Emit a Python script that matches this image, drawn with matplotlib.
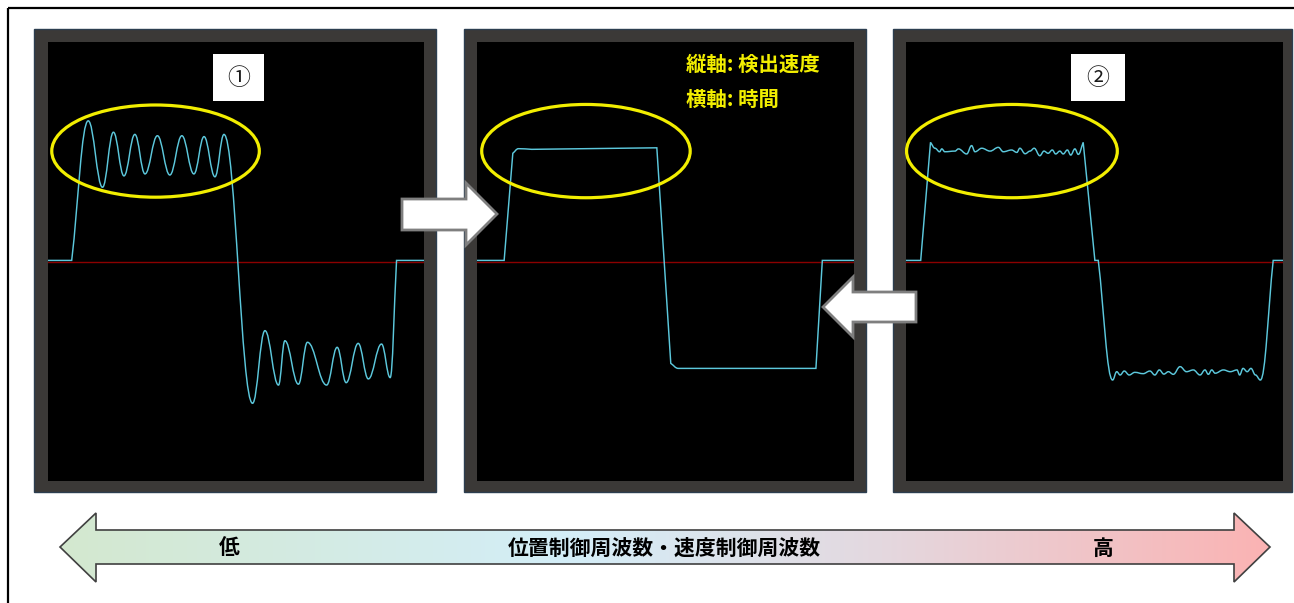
import matplotlib
matplotlib.use("Agg")
import matplotlib.pyplot as plt
import numpy as np
from matplotlib.path import Path
from matplotlib.patches import PathPatch, Polygon, Rectangle, Ellipse
from matplotlib.colors import LinearSegmentedColormap

plt.rcParams['font.family'] = ['Noto Sans CJK JP', 'DejaVu Sans']

# ---------------- data (time 0-100, detected speed -100..100) ----------------
# Panel ① : low control frequency -> large oscillation
p1_time = [0, 6.3, 10.7, 14.5, 17.4, 20.2, 23.1, 25.8, 29.1, 32.4, 35.6, 38.8, 41.5, 44.4, 46.8,
           54.4, 57.7, 61.3, 63.0, 66.6, 69.0, 74.1, 76.9, 79.3, 82.5, 85.2, 88.7, 91.0, 92.7, 100]
p1_speed = [0.5, 0.5, 64.1, 33.8, 58.9, 39.0, 57.9, 39.9, 57.3, 39.4, 57.3, 39.9, 56.9, 38.6, 57.9,
            -64.6, -31.5, -56.3, -36.1, -55.9, -36.8, -56.3, -39.1, -55.2, -37.3, -53.5, -37.6, -52.9, 0.5, 0.5]
p1_smooth = [0, 0, 1, 1, 1, 1, 1, 1, 1, 1, 1, 1, 1, 1, 1,
             1, 1, 1, 1, 1, 1, 1, 1, 1, 1, 1, 1, 1, 0, 0]

# Panel centre : appropriate frequency -> clean response
p2_time = [0, 7.2, 9.5, 11.0, 14.5, 47.7, 51.4, 53.4, 89.9, 91.6, 100]
p2_speed = [0.5, 0.5, 49.3, 51.4, 51.1, 51.8, -46.4, -48.7, -48.7, 0.5, 0.5]
p2_smooth = [0, 0, 0, 1, 0, 0, 0, 1, 0, 0, 0]

# Panel ② : high control frequency -> small ripple
p3_time = [0, 3.9, 6.5, 7.7, 8.9, 9.5, 10.3, 13.0, 13.9, 16.1, 17.4, 18.3, 20.1, 22.3, 24.5, 25.8,
           28.0, 29.4, 30.2, 31.6, 32.9, 34.0, 35.5, 36.6, 37.7, 38.8, 39.7, 40.8, 41.7, 42.8, 43.7,
           44.8, 45.7, 47.0, 50.1, 51.0, 54.8, 55.9, 56.8, 57.9, 59.2, 60.7, 62.9, 64.7, 66.0, 67.2,
           68.4, 69.6, 70.9, 72.7, 74.4, 76.2, 78.0, 79.3, 80.2, 81.1, 82.0, 84.2, 86.0, 87.8, 88.5,
           89.4, 90.5, 91.5, 92.7, 94.0, 97.4, 100]
p3_speed = [0.5, 0.5, 54.3, 51.6, 50.0, 51.3, 50.0, 50.3, 51.3, 49.0, 52.8, 50.0, 51.6, 50.3, 52.0, 50.0,
            50.8, 49.7, 51.6, 49.1, 50.3, 51.6, 48.2, 50.3, 49.3, 50.8, 49.0, 50.3, 49.0, 50.8, 48.5,
            51.3, 48.8, 54.3, 0.5, 0.5, -54.0, -50.2, -51.7, -49.9, -51.7, -50.5, -51.1, -49.9, -51.7, -49.4,
            -51.3, -50.2, -51.4, -47.9, -50.2, -49.4, -51.7, -49.4, -51.4, -49.4, -50.9, -49.4, -50.2, -49.4, -51.7,
            -48.7, -50.2, -48.7, -51.7, -54.0, 0.5, 0.5]
p3_smooth = [0, 0, 0] + [1] * 30 + [0, 0, 0] + [1] * 29 + [1, 0, 0]

panel_labels = ["①", "", "②"]
axis_text = ["縦軸: 検出速度", "横軸: 時間"]
scale_labels = ["低", "位置制御周波数・速度制御周波数", "高"]

# highlight ellipses (centre time, centre speed, width, height)
ell_t = [28.6, 28.9, 28.1]
ell_v = [50.3, 50.3, 50.3]
ell_w = [55.2, 55.3, 55.9]
ell_h = [42.0, 42.5, 42.5]

# ---------------- figure ----------------
W, H = 1294, 603
fig = plt.figure(figsize=(W / 100, H / 100), dpi=100)
fig.patch.set_facecolor("white")

def px_axes(z):
    a = fig.add_axes([0, 0, 1, 1], zorder=z)
    a.set_xlim(0, W)
    a.set_ylim(H, 0)
    a.axis("off")
    a.patch.set_alpha(0)
    return a

bg = px_axes(0)
# panel frames (outer gray, thin navy edge)
frames = [(34, 29, 436, 492), (464, 29, 866, 492), (893, 29, 1292, 492)]
for (x0, y0, x1, y1) in frames:
    bg.add_patch(Rectangle((x0, y0), x1 - x0, y1 - y0, facecolor="#3b3937",
                           edgecolor="#2c3e50", lw=1.0))

inner = [(48, 42, 424, 481), (477, 42, 854, 481), (906, 42, 1283, 481)]
series = [(p1_time, p1_speed, p1_smooth), (p2_time, p2_speed, p2_smooth), (p3_time, p3_speed, p3_smooth)]

def make_path(t, v, s, f=0.4):
    verts = [(t[0], v[0])]
    codes = [Path.MOVETO]
    for i in range(1, len(t)):
        x0, y0, x1, y1 = t[i - 1], v[i - 1], t[i], v[i]
        dx, dy = x1 - x0, y1 - y0
        c1 = (x0 + dx * f, y0) if s[i - 1] else (x0 + dx * f, y0 + dy * f)
        c2 = (x1 - dx * f, y1) if s[i] else (x1 - dx * f, y1 - dy * f)
        verts += [c1, c2, (x1, y1)]
        codes += [Path.CURVE4] * 3
    return Path(verts, codes)

for k, ((x0, y0, x1, y1), (t, v, s)) in enumerate(zip(inner, series)):
    ax = fig.add_axes([x0 / W, 1 - y1 / H, (x1 - x0) / W, (y1 - y0) / H], zorder=1)
    ax.set_facecolor("black")
    ax.set_xlim(0, 100)
    ax.set_ylim(-100, 100)
    ax.set_xticks([])
    ax.set_yticks([])
    for sp in ax.spines.values():
        sp.set_visible(False)
    ax.axhline(0, color="#8b0000", lw=1.0, zorder=1)
    ax.add_patch(PathPatch(make_path(t, v, s), facecolor="none", edgecolor="#5cc8dc", lw=1.05, zorder=2))
    ax.add_patch(Ellipse((ell_t[k], ell_v[k]), ell_w[k], ell_h[k], facecolor="none",
                         edgecolor="#f2ee00", lw=2.3, zorder=3, clip_on=False))
    if k == 1:
        ax.text(55.5, 90, axis_text[0], color="#f2ee00", fontsize=14.7, fontweight="bold",
                ha="left", va="center")
        ax.text(55.5, 74, axis_text[1], color="#f2ee00", fontsize=14.7, fontweight="bold",
                ha="left", va="center")

ov = px_axes(3)
# label boxes
boxes = [(213, 54, 264, 101), None, (1071, 54, 1125, 101)]
for b, lab in zip(boxes, panel_labels):
    if b is None:
        continue
    ov.add_patch(Rectangle((b[0], b[1]), b[2] - b[0], b[3] - b[1], facecolor="white", edgecolor="none"))
    ov.text((b[0] + b[2]) / 2, (b[1] + b[3]) / 2 + 1, lab, fontsize=16.5, ha="center", va="center", color="#1a1a1a")

# block arrows between panels
right_arrow = [(402, 199), (466, 199), (466, 183), (497, 214), (466, 245), (466, 230), (402, 230)]
left_arrow = [(823, 307), (853, 277), (853, 292), (916, 292), (916, 322), (853, 322), (853, 337)]
for pts in (right_arrow, left_arrow):
    ov.add_patch(Polygon(pts, closed=True, facecolor="white", edgecolor="#7f7f7f", lw=2.0, joinstyle="miter"))

# bottom gradient double arrow
big = [(60, 547), (96, 513), (96, 530), (1234, 530), (1234, 513), (1270, 547),
       (1234, 582), (1234, 564), (96, 564), (96, 582)]
poly = Polygon(big, closed=True, facecolor="none", edgecolor="#404040", lw=1.2, zorder=3)
ov.add_patch(poly)
cmap = LinearSegmentedColormap.from_list("g", [(0.0, "#d3e8cf"), (0.42, "#d4eef8"),
                                               (0.68, "#e4d8df"), (1.0, "#fbb3b3")])
grad = np.linspace(0, 1, 512).reshape(1, -1)
im = ov.imshow(grad, cmap=cmap, extent=(60, 1270, 582, 513), aspect="auto", zorder=2)
clip = Polygon(big, closed=True, transform=ov.transData, facecolor="none", edgecolor="none")
ov.add_patch(clip)
im.set_clip_path(clip)
ov.set_xlim(0, W)
ov.set_ylim(H, 0)

ov.text(229, 548, scale_labels[0], fontsize=15, fontweight="bold", ha="center", va="center", zorder=4)
ov.text(664, 548, scale_labels[1], fontsize=15, fontweight="bold", ha="center", va="center", zorder=4)
ov.text(1103, 548, scale_labels[2], fontsize=15, fontweight="bold", ha="center", va="center", zorder=4)

# outer frame
ov.add_patch(Rectangle((8, 8), W, H, facecolor="none", edgecolor="black", lw=1.6, zorder=5))

fig.savefig("out.png", dpi=100)
